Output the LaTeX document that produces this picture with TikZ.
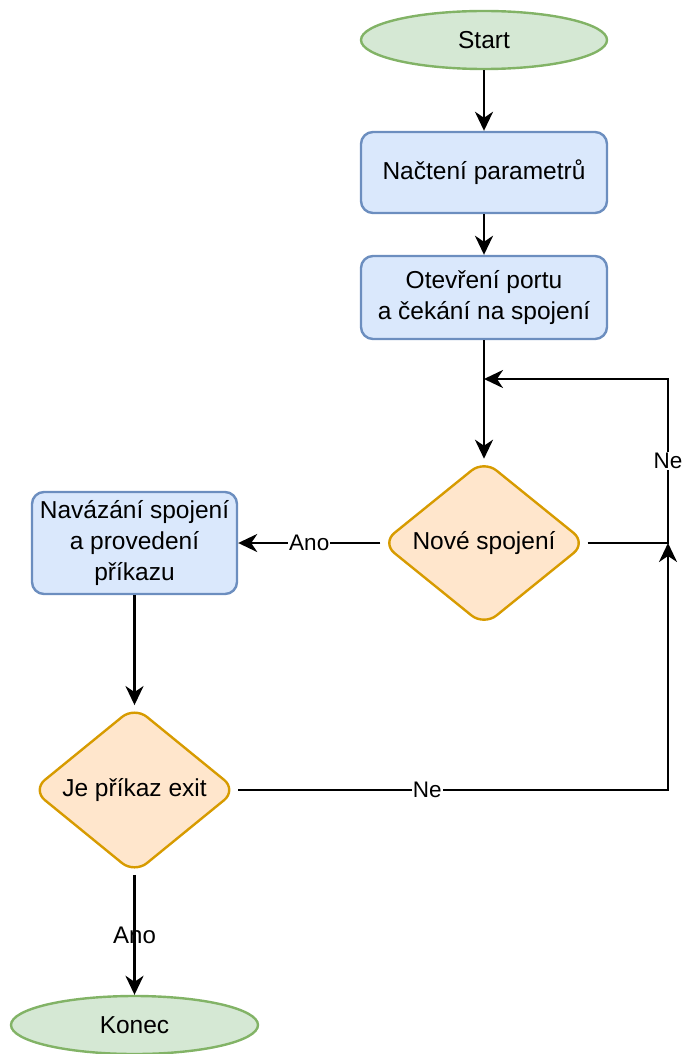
\documentclass[tikz,border=0pt]{standalone}
\usepackage{fontspec}
\setmainfont{Liberation Sans}
\usetikzlibrary{shapes.geometric,arrows.meta}

\definecolor{termfill}{HTML}{D5E8D4}
\definecolor{termdraw}{HTML}{82B366}
\definecolor{procfill}{HTML}{DAE8FC}
\definecolor{procdraw}{HTML}{6C8EBF}
\definecolor{decfill}{HTML}{FFE6CC}
\definecolor{decdraw}{HTML}{D79B00}

\begin{document}
\begin{tikzpicture}[x=1pt,y=-1pt,
  every node/.style={font=\fontsize{24.5}{31}\selectfont},
  terminal/.style={ellipse, draw=termdraw, fill=termfill, line width=2.4pt,
    minimum width=246pt, minimum height=58pt, inner sep=0pt},
  process/.style={rectangle, rounded corners=12pt, draw=procdraw, fill=procfill,
    line width=2.4pt, align=center, inner sep=0pt},
  decision/.style={diamond, rounded corners=16pt, draw=decdraw, fill=decfill,
    line width=2.4pt, inner sep=0pt, minimum width=205pt, minimum height=165pt},
  flow/.style={line width=2.6pt, -{Stealth[length=19pt,width=18pt,inset=6pt]}},
  edgelabel/.style={fill=white, inner sep=1pt, font=\fontsize{22.5}{26}\selectfont},
  plainlabel/.style={inner sep=1pt, font=\fontsize{24}{28}\selectfont}
]
\useasboundingbox (0,0) rectangle (687,1054);

% steps of the server loop
\node[terminal] (start) at (484,40) {Start};
\node[process, minimum width=246pt, minimum height=81pt] (load) at (484,172.5) {Načtení parametrů};
\node[process, minimum width=246pt, minimum height=83pt] (open) at (484,297.5) {Otevření portu\\a čekání na spojení};
\node[decision] (newconn) at (484,543) {Nové spojení};
\node[process, minimum width=205pt, minimum height=102pt] (exec) at (134.5,543) {Navázání spojení\\a provedení\\příkazu};
\node[decision] (isexit) at (134.5,790) {Je příkaz exit};
\node[terminal, minimum width=247pt] (stop) at (134.5,1025) {Konec};

% junction points of the waiting loop
\coordinate (merge) at (484,379);
\coordinate (rail) at (668,543);

% connectors
\draw[flow] (start) -- (load);
\draw[flow] (load) -- (open);
\draw[flow] (open) -- (newconn);
\draw[flow] (newconn.east) -- (rail) |- node[edgelabel, pos=0.25] {Ne} (merge);
\draw[flow] (newconn.west) -- node[edgelabel] {Ano} (exec.east);
\draw[flow] (exec) -- (isexit);
\draw[flow] (isexit.east) -| node[edgelabel, pos=0.22] {Ne} (rail);
\draw[flow] (isexit) -- node[plainlabel] {Ano} (stop);
\end{tikzpicture}
\end{document}
